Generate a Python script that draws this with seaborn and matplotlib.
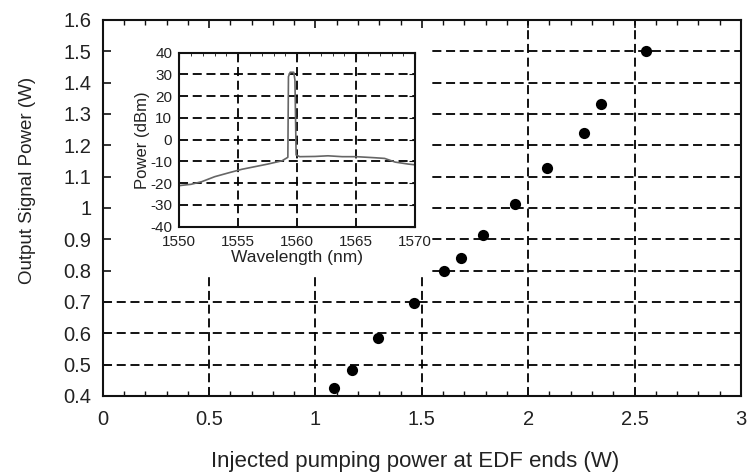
import matplotlib
matplotlib.use("Agg")
import matplotlib.pyplot as plt
import matplotlib.ticker as mticker
from matplotlib.patches import Rectangle
import seaborn as sns

# main curve: output signal vs injected pump power
pump_w = [1.089, 1.172, 1.295, 1.463, 1.602, 1.686, 1.786, 1.938, 2.086, 2.261, 2.343, 2.554]
signal_w = [0.425, 0.483, 0.584, 0.696, 0.800, 0.840, 0.913, 1.013, 1.127, 1.240, 1.332, 1.502]

# inset: output spectrum
wavelength_nm = [1550.0, 1551.0, 1551.9, 1553.0, 1554.2, 1555.3, 1556.4, 1557.5, 1558.7,
                 1559.2, 1559.25, 1559.4, 1559.7, 1559.8, 1559.9, 1560.2, 1561.5, 1562.6,
                 1563.8, 1565.0, 1566.6, 1567.4, 1568.3, 1569.4, 1569.9]
power_dbm = [-21.1, -20.5, -19.3, -17.0, -15.2, -13.6, -12.4, -11.2, -9.7,
             -8.1, 29.0, 31.0, 31.0, 27.4, -7.0, -7.8, -7.7, -7.4,
             -7.8, -7.8, -8.3, -8.6, -10.3, -11.2, -11.5]

x_ticks = [0, 0.5, 1, 1.5, 2, 2.5, 3]
x_labels = ["0", "0.5", "1", "1.5", "2", "2.5", "3"]
y_ticks = [0.4, 0.5, 0.6, 0.7, 0.8, 0.9, 1.0, 1.1, 1.2, 1.3, 1.4, 1.5, 1.6]
y_labels = ["0.4", "0.5", "0.6", "0.7", "0.8", "0.9", "1", "1.1", "1.2", "1.3", "1.4", "1.5", "1.6"]
inset_x_ticks = [1550, 1555, 1560, 1565, 1570]
inset_y_ticks = [-40, -30, -20, -10, 0, 10, 20, 30, 40]

sns.set_style("white")
plt.rcParams["font.family"] = ["Liberation Sans", "DejaVu Sans"]
plt.rcParams["axes.unicode_minus"] = False
txt = "#222222"
grid_kw = dict(color="black", linestyle=(0, (5, 2.6)), linewidth=1.3)

fig = plt.figure(figsize=(7.48, 4.76), dpi=100)
rect = [0.1373, 0.1681, 0.8533, 0.7899]
ax = fig.add_axes(rect)

sns.scatterplot(x=pump_w, y=signal_w, ax=ax, color="black", s=65,
                edgecolor="black", linewidth=0, zorder=3)
ax.set_xlim(0, 3)
ax.set_ylim(0.4, 1.6)
ax.set_xticks(x_ticks, x_labels)
ax.set_yticks(y_ticks, y_labels)
ax.set_axisbelow(True)
ax.grid(True, **grid_kw)
ax.tick_params(length=0, labelsize=14.5, labelcolor=txt)
ax.tick_params(axis="x", pad=10)
ax.tick_params(axis="y", pad=8)
for s in ax.spines.values():
    s.set_linewidth(1.5)
    s.set_color("#111111")
ax.set_xlabel("Injected pumping power at EDF ends (W)", fontsize=16, color=txt)
ax.set_ylabel("Output Signal Power (W)", fontsize=13.5, color=txt)
ax.xaxis.set_label_coords(0.49, -0.145)
ax.yaxis.set_label_coords(-0.104, 0.572)

# white area behind the inset hides the main grid there
ax.add_patch(Rectangle((0, 0.78), 1.55, 0.82, facecolor="white", edgecolor="none", zorder=1))

# tick marks on a transparent overlay so they sit above the mask
fr = fig.add_axes(rect, facecolor="none")
fr.set_xlim(0, 3)
fr.set_ylim(0.4, 1.6)
fr.set_xticks(x_ticks)
fr.set_yticks(y_ticks)
fr.xaxis.set_minor_locator(mticker.MultipleLocator(0.1))
fr.tick_params(which="both", direction="in", top=True, bottom=True, left=True, right=False,
               labelbottom=False, labelleft=False, color="#111111")
fr.tick_params(which="major", length=6, width=1.2)
fr.tick_params(which="minor", length=3.5, width=1.0)
for s in fr.spines.values():
    s.set_visible(False)

# inset spectrum
ax_in = fig.add_axes([0.2397, 0.5237, 0.3155, 0.3656])
sns.lineplot(x=wavelength_nm, y=power_dbm, ax=ax_in, color="#666666", linewidth=1.2,
             estimator=None, sort=False)
ax_in.set_xlim(1550, 1570)
ax_in.set_ylim(-40, 40)
ax_in.set_xticks(inset_x_ticks)
ax_in.set_yticks(inset_y_ticks)
ax_in.xaxis.set_minor_locator(mticker.MultipleLocator(1))
ax_in.grid(True, **grid_kw)
ax_in.tick_params(which="both", direction="in", top=True, right=True, color="#111111")
ax_in.tick_params(which="major", length=4, labelsize=11, labelcolor=txt)
ax_in.tick_params(which="minor", length=2)
ax_in.tick_params(axis="x", pad=6)
ax_in.tick_params(axis="y", pad=5)
for s in ax_in.spines.values():
    s.set_linewidth(1.5)
    s.set_color("#111111")
ax_in.set_xlabel("Wavelength (nm)", fontsize=12.5, color=txt, labelpad=1)
ax_in.set_ylabel("Power (dBm)", fontsize=12, color=txt, labelpad=0)

fig.savefig("out.png", dpi=100)
